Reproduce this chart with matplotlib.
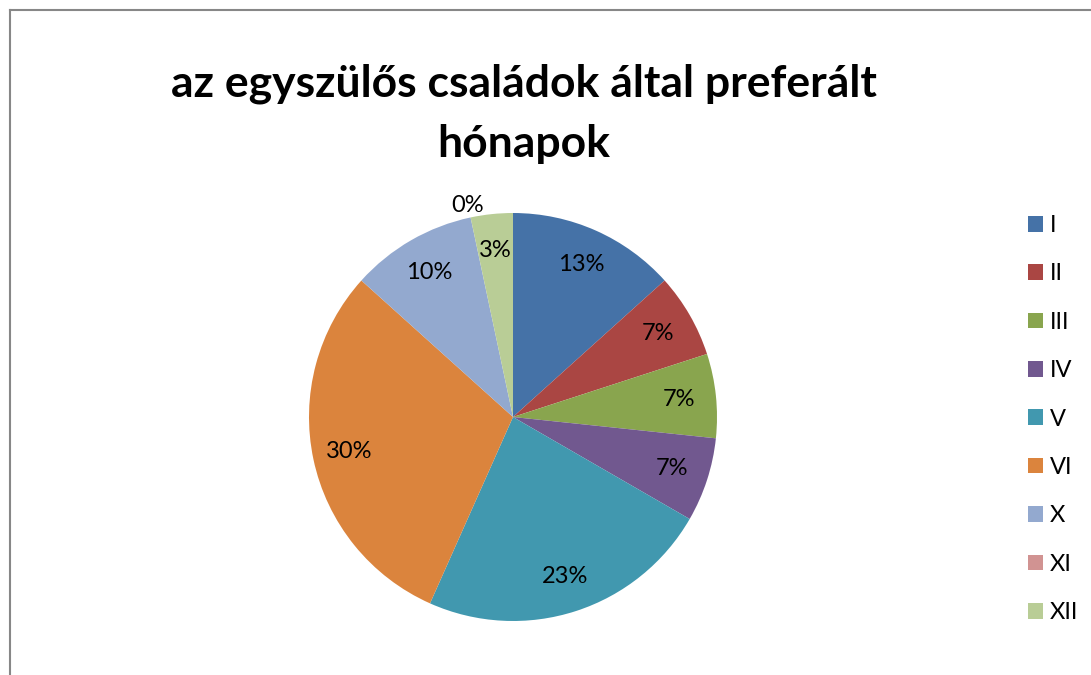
import matplotlib
matplotlib.use("Agg")
import matplotlib.pyplot as plt
from matplotlib.lines import Line2D
import numpy as np

months = ["I", "II", "III", "IV", "V", "VI", "X", "XI", "XII"]
counts = [4, 2, 2, 2, 7, 9, 3, 0, 1]
colors = ["#4572A7", "#AA4643", "#89A54E", "#71588F", "#4198AF",
          "#DB843D", "#93A9CF", "#D19392", "#B9CD96"]
title_lines = ["az egyszülős családok által preferált", "hónapok"]

plt.rcParams['font.family'] = ['Lato', 'DejaVu Sans']

W, H = 1091, 675
fig = plt.figure(figsize=(W / 100, H / 100), dpi=100)

# border lines (top and left)
fig.add_artist(Line2D([9.5 / W, 9.5 / W], [0, 1 - 9.5 / H], transform=fig.transFigure,
                      color="#878787", lw=1.5))
fig.add_artist(Line2D([9.5 / W, 1], [1 - 9.5 / H, 1 - 9.5 / H], transform=fig.transFigure,
                      color="#878787", lw=1.5))

cx, cy, r = 513, 417, 204
ax = fig.add_axes([(cx - r) / W, 1 - (cy + r) / H, 2 * r / W, 2 * r / H])
wedges, texts, autotexts = ax.pie(
    counts, colors=colors, startangle=90, counterclock=False,
    autopct=lambda p: f"{p:.0f}%", pctdistance=0.82, radius=1,
    wedgeprops=dict(linewidth=0.5, edgecolor="none"),
    textprops=dict(fontsize=17, color="black"))
ax.set_xlim(-1, 1)
ax.set_ylim(-1, 1)
ax.set_aspect("auto")
ax.axis("off")

# move zero-value label outside
for w, t, c in zip(wedges, autotexts, counts):
    if c == 0:
        ang = np.deg2rad((w.theta1 + w.theta2) / 2)
        t.set_position((1.08 * np.cos(ang), 1.06 * np.sin(ang)))

# title lines placed by baseline
for line, base in zip(title_lines, [97, 157]):
    fig.text(524 / W, 1 - base / H, line, ha="center", va="baseline",
             fontsize=32, fontweight="bold")

leg = fig.legend(wedges, months, loc="upper left",
                 bbox_to_anchor=(1028 / W, 1 - 215 / H),
                 frameon=False, fontsize=17, handlelength=0.64, handleheight=0.64,
                 handletextpad=0.3, labelspacing=1.16, borderpad=0, borderaxespad=0)

fig.savefig("out.png", dpi=100)
